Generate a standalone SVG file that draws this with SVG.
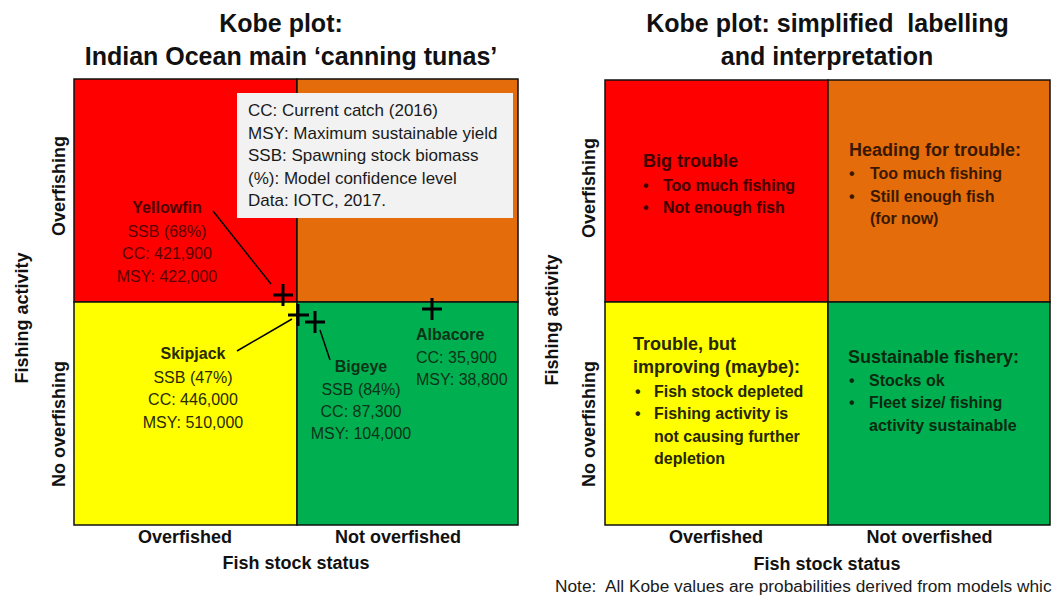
<svg xmlns="http://www.w3.org/2000/svg" width="1052" height="599" viewBox="0 0 1052 599">
<style>
text{font-family:"Liberation Sans",Arial,sans-serif;}
.t{font-size:25px;font-weight:bold;fill:#111;text-anchor:middle;}
.ax{font-size:18px;font-weight:bold;fill:#111;text-anchor:middle;}
.q{stroke:#111;stroke-width:1.5;}
.r{fill:#ff0000;}.o{fill:#e46c0a;}.y{fill:#ffff00;}.g{fill:#00b050;}
.lg{font-size:17px;fill:#1a1a1a;}
.sb{font-size:16px;font-weight:bold;text-anchor:middle;}
.sn{font-size:16px;text-anchor:middle;}
.h{font-size:18px;font-weight:bold;}
.b{font-size:16px;font-weight:bold;}
.cross{stroke:#000;stroke-width:3;fill:none;}
.lead{stroke:#000;stroke-width:1.5;fill:none;}
</style>

<!-- Left panel -->
<g id="title-left">
<text class="t" x="281" y="32">Kobe plot:</text>
<text class="t" x="291" y="65">Indian Ocean main ‘canning tunas’</text>
</g>
<g id="plot-left">
<rect class="q r" x="74" y="79" width="223" height="223"/>
<rect class="q o" x="297" y="79" width="221" height="223"/>
<rect class="q y" x="74" y="302" width="223" height="223"/>
<rect class="q g" x="297" y="302" width="221" height="223"/>
</g>
<g id="axes-left">
<text class="ax" transform="translate(65,186) rotate(-90)">Overfishing</text>
<text class="ax" transform="translate(65,424) rotate(-90)">No overfishing</text>
<text class="ax" transform="translate(28,318) rotate(-90)">Fishing activity</text>
<text class="ax" x="185" y="543">Overfished</text>
<text class="ax" x="398" y="543">Not overfished</text>
<text class="ax" x="296" y="569">Fish stock status</text>
</g>
<g id="legend">
<rect x="237" y="93" width="276" height="125" fill="#f2f2f2"/>
<text class="lg" x="248" y="116">CC: Current catch (2016)</text>
<text class="lg" x="248" y="138.5">MSY: Maximum sustainable yield</text>
<text class="lg" x="248" y="161">SSB: Spawning stock biomass</text>
<text class="lg" x="248" y="183.5">(%): Model confidence level</text>
<text class="lg" x="248" y="206">Data: IOTC, 2017.</text>
</g>
<g id="yellowfin" fill="#5a0000">
<text class="sb" x="167" y="213" fill="#4a0000">Yellowfin</text>
<text class="sn" x="167" y="237">SSB (68%)</text>
<text class="sn" x="167" y="259">CC: 421,900</text>
<text class="sn" x="167" y="282">MSY: 422,000</text>
<path class="cross" d="M273 295H293M283 284V306"/>
</g>
<g id="skipjack" fill="#2a2a00">
<text class="sb" x="193" y="359">Skipjack</text>
<text class="sn" x="193" y="383">SSB (47%)</text>
<text class="sn" x="193" y="405">CC: 446,000</text>
<text class="sn" x="193" y="428">MSY: 510,000</text>
<path class="cross" d="M288 315H309M298 304V326"/>
</g>
<g id="bigeye" fill="#0d3318">
<text class="sb" x="361" y="372">Bigeye</text>
<text class="sn" x="361" y="395">SSB (84%)</text>
<text class="sn" x="361" y="417">CC: 87,300</text>
<text class="sn" x="361" y="439">MSY: 104,000</text>
<path class="cross" d="M305 322H325M315 311V333"/>
</g>
<g id="albacore" fill="#0d3318">
<text class="b" x="416" y="340">Albacore</text>
<text x="416" y="363" font-size="16">CC: 35,900</text>
<text x="416" y="385" font-size="16">MSY: 38,800</text>
<path class="cross" d="M422 309H442M432 298V320"/>
</g>
<g id="connectors">
<line class="lead" x1="213" y1="211" x2="271" y2="284"/>
<line class="lead" x1="237" y1="351" x2="292" y2="319"/>
<line class="lead" x1="320" y1="330" x2="330" y2="360"/>
</g>

<!-- Right panel -->
<g id="title-right">
<text class="t" x="827.5" y="32" xml:space="preserve">Kobe plot: simplified  labelling</text>
<text class="t" x="827" y="65">and interpretation</text>
</g>
<g id="plot-right">
<rect class="q r" x="605" y="80" width="223" height="222"/>
<rect class="q o" x="828" y="80" width="222" height="222"/>
<rect class="q y" x="605" y="302" width="223" height="223"/>
<rect class="q g" x="828" y="302" width="222" height="223"/>
</g>
<g id="axes-right">
<text class="ax" transform="translate(595,188) rotate(-90)">Overfishing</text>
<text class="ax" transform="translate(595,424) rotate(-90)">No overfishing</text>
<text class="ax" transform="translate(558,320) rotate(-90)">Fishing activity</text>
<text class="ax" x="716" y="543">Overfished</text>
<text class="ax" x="929.5" y="543">Not overfished</text>
<text class="ax" x="827" y="570">Fish stock status</text>
</g>
<g id="big-trouble" fill="#400000">
<text class="h" x="643" y="167">Big trouble</text>
<text class="b" x="643" y="191">•</text><text class="b" x="663" y="191">Too much fishing</text>
<text class="b" x="643" y="213">•</text><text class="b" x="663" y="213">Not enough fish</text>
</g>
<g id="heading-for-trouble" fill="#3a1800">
<text class="h" x="849" y="156">Heading for trouble:</text>
<text class="b" x="849" y="179">•</text><text class="b" x="870" y="179">Too much fishing</text>
<text class="b" x="849" y="202">•</text><text class="b" x="870" y="202">Still enough fish</text>
<text class="b" x="870" y="224">(for now)</text>
</g>
<g id="trouble-improving" fill="#262600">
<text class="h" x="633" y="350">Trouble, but</text>
<text class="h" x="633" y="373">improving (maybe):</text>
<text class="b" x="635" y="397">•</text><text class="b" x="654" y="397">Fish stock depleted</text>
<text class="b" x="635" y="419">•</text><text class="b" x="654" y="419">Fishing activity is</text>
<text class="b" x="654" y="442">not causing further</text>
<text class="b" x="654" y="464">depletion</text>
</g>
<g id="sustainable" fill="#0a2a10">
<text class="h" x="848" y="363">Sustainable fishery:</text>
<text class="b" x="849" y="386">•</text><text class="b" x="869" y="386">Stocks ok</text>
<text class="b" x="849" y="408">•</text><text class="b" x="869" y="408">Fleet size/ fishing</text>
<text class="b" x="869" y="431">activity sustainable</text>
</g>
<g id="note">
<text x="555" y="592" font-size="17.3" fill="#1a1a1a" xml:space="preserve">Note:  All Kobe values are probabilities derived from models whic</text>
</g>
</svg>
